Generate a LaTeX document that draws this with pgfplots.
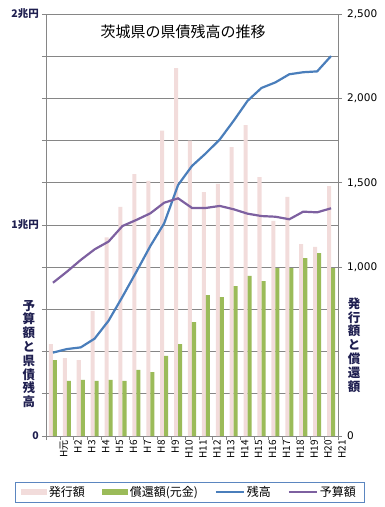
\documentclass[border=0pt]{standalone}
\usepackage{pgfplots}
\pgfplotsset{compat=1.18}
\usepackage{pgfplotstable}
\usepackage{fontspec}
\setmainfont{Noto Sans CJK JP}
\newfontfamily\numfont{DejaVu Sans}
\definecolor{pinkb}{HTML}{F2DCDB}
\definecolor{greenb}{HTML}{9BBB59}
\definecolor{blueL}{HTML}{4A7EBB}
\definecolor{purpL}{HTML}{7D60A0}
\definecolor{gridc}{HTML}{868686}
\definecolor{navy}{HTML}{1F1F50}
\definecolor{legc}{HTML}{5B86C0}
\pgfplotstableread{
x hakko shokan zan yosan
0 545 450 494 908
1 462 326 515 973
2 450 332 525 1043
3 740 326 577 1106
4 1177 332 683 1152
5 1358 326 825 1244
6 1552 391 973 1280
7 1511 379 1125 1319
8 1809 474 1260 1382
9 2180 545 1487 1408
10 1750 675 1600 1351
11 1445 835 1675 1351
12 1493 823 1757 1363
13 1712 888 1868 1343
14 1842 948 1986 1317
15 1534 918 2062 1303
16 1274 995 2095 1299
17 1416 995 2143 1284
18 1137 1054 2155 1329
19 1120 1084 2160 1325
20 1481 995 2251 1349
}\data
\begin{document}
\begin{tikzpicture}
\useasboundingbox (0,0) rectangle (384pt,507pt);
\begin{axis}[
  at={(46pt,71pt)}, anchor=south west,
  scale only axis, width=292pt, height=422pt,
  xmin=-0.5, xmax=20.5, ymin=0, ymax=2500,
  axis line style={gridc, line width=0.8pt},
  tick style={gridc, line width=0.8pt},
  tick align=outside,
  xtick={0,...,20},
  xticklabels={H元,H2,H3,H4,H5,H6,H7,H8,H9,H10,H11,H12,H13,H14,H15,H16,H17,H18,H19,H20,H21},
  major x tick style={draw=none},
  minor xtick={-0.5,0.5,...,20.5},
  minor tick length=4pt,
  major tick length=4pt,
  xtick pos=bottom,
  x tick label style={rotate=90, anchor=east, font=\fontsize{10}{10}\selectfont, inner sep=0pt, yshift=-11pt},
  ytick={0,250,...,2500},
  yticklabels={0,,,,,1兆円,,,,,2兆円},
  ytick pos=left,
  y tick label style={font=\bfseries\fontsize{10.5}{11}\selectfont, text=navy, inner sep=1pt, xshift=-2pt},
  ymajorgrids,
  grid style={gridc, line width=0.8pt},
  legend style={at={(0.491,-0.133)}, anchor=center, legend columns=4, draw=legc, line width=0.6pt,
    font=\fontsize{12}{12}\selectfont, inner xsep=6pt, inner ysep=2pt,
    /tikz/every even column/.append style={column sep=15pt}},
]
\addplot[ybar, fill=pinkb, draw=none, bar width=0.29, bar shift=-0.145,
  legend image code/.code={\fill[pinkb] (0pt,-3pt) rectangle (26pt,3pt);}] table[x=x,y=hakko]{\data};
\addlegendentry{発行額}
\addplot[ybar, fill=greenb, draw=none, bar width=0.29, bar shift=0.145,
  legend image code/.code={\fill[greenb] (0pt,-3pt) rectangle (26pt,3pt);}] table[x=x,y=shokan]{\data};
\addlegendentry{償還額(元金)}
\addplot[blueL, line width=2.2pt, mark=none,
  legend image code/.code={\draw[blueL, line width=2pt] (0pt,0pt) -- (28pt,0pt);}] table[x=x,y=zan]{\data};
\addlegendentry{残高}
\addplot[purpL, line width=2.2pt, mark=none,
  legend image code/.code={\draw[purpL, line width=2pt] (0pt,0pt) -- (28pt,0pt);}] table[x=x,y=yosan]{\data};
\addlegendentry{予算額}
\node[font=\fontsize{15}{15}\selectfont, anchor=center] at (rel axis cs:0.47,0.957) {茨城県の県債残高の推移};
\end{axis}
\begin{axis}[
  at={(46pt,71pt)}, anchor=south west,
  scale only axis, width=292pt, height=422pt,
  xmin=-0.5, xmax=20.5, ymin=0, ymax=2500,
  axis x line=none,
  axis y line*=right,
  axis line style={gridc, line width=0.8pt},
  tick style={gridc, line width=0.8pt},
  tick align=outside, major tick length=4pt,
  ytick={0,1000,1500,2000,2500},
  yticklabels={0,{1,000},{1,500},{2,000},{2,500}},
  y tick label style={font=\numfont\fontsize{10.5}{11}\selectfont, inner sep=1pt, xshift=4pt},
]
\addplot[draw=none] coordinates {(0,0)};
\end{axis}
\node[font=\bfseries\fontsize{12.5}{13.8}\selectfont, text=navy, align=center] at (29pt,153pt) {予\\算\\額\\と\\県\\債\\残\\高};
\node[font=\bfseries\fontsize{12.5}{13.8}\selectfont, text=navy, align=center] at (354pt,162pt) {発\\行\\額\\と\\償\\還\\額};
\end{tikzpicture}
\end{document}
